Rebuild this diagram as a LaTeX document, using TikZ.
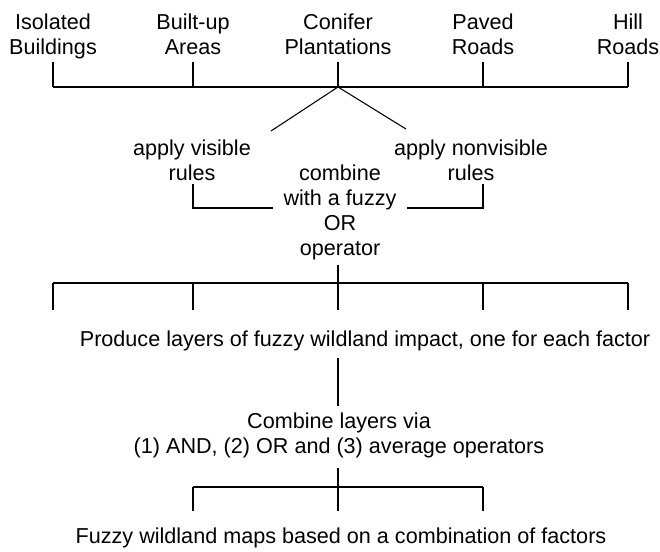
\documentclass[tikz,border=0pt]{standalone}
\usepackage{fontspec}
\setmainfont{Liberation Sans}
\usetikzlibrary{calc}

\begin{document}
\begin{tikzpicture}[x=0.75pt, y=-0.75pt, line width=0.8pt,
		lbl/.style = {inner sep=0pt, outer sep=0pt, anchor=north, align=center,
			font=\fontsize{16.2pt}{18.9pt}\selectfont}]
			\useasboundingbox (0,0) rectangle (660,552);

			% factors
			\node[lbl] (iso)  at (53,13.5)  {Isolated\\Buildings};
			\node[lbl] (bua)  at (193,13.5) {Built-up\\Areas};
			\node[lbl] (con)  at (338,13.5) {Conifer\\Plantations};
			\node[lbl] (pav)  at (483,13.5) {Paved\\Roads};
			\node[lbl] (hil)  at (628,13.5) {Hill\\Roads};

			% rules
			\node[lbl] (vis)  at (192,139.5) {apply visible\\rules};
			\node[lbl] (nvis) at (471,139.5) {apply nonvisible\\rules};
			\node[lbl] (comb) at (340,164.5) {combine\\with a fuzzy\\OR\\operator};

			% layers and maps
			\node[lbl] (prod) at (365,330.5) {Produce layers of fuzzy wildland impact, one for each factor};
			\node[lbl] (oper) at (339,412.5) {Combine layers via\\(1) AND, (2) OR and (3) average operators};
			\node[lbl] (fuz)  at (341,527.5) {Fuzzy wildland maps based on a combination of factors};

			\coordinate (bus1) at (338,87);
			\coordinate (bus2) at (338,283);
			\coordinate (bus3) at (338,487);
			\coordinate (visin)  at (271,131);
			\coordinate (nvisin) at (406,129);
			\coordinate (elbl) at (273,208);
			\coordinate (elbr) at (407,208);

			% top bar
			\draw (iso |- bus1) -- (hil |- bus1);
			\foreach \n in {iso, bua, con, pav, hil}
				\draw (\n |- 0,62) -- (\n |- bus1);
			\draw (visin) -- (bus1) -- (nvisin);

			% elbows into the OR
			\draw (bua |- 0,184) |- (elbl);
			\draw (pav |- 0,184) |- (elbr);

			% middle bar
			\draw (con |- 0,265) -- (bus2);
			\draw (iso |- bus2) -- (hil |- bus2);
			\foreach \n in {iso, bua, con, pav, hil}
				\draw (\n |- bus2) -- (\n |- 0,310);

			\draw (con |- 0,358) -- (con |- 0,406);

			% bottom bar
			\draw (con |- 0,468) -- (con |- 0,511);
			\draw (bua |- bus3) -- (pav |- bus3);
			\foreach \n in {bua, pav}
				\draw (\n |- bus3) -- (\n |- 0,511);
		\end{tikzpicture}
\end{document}
